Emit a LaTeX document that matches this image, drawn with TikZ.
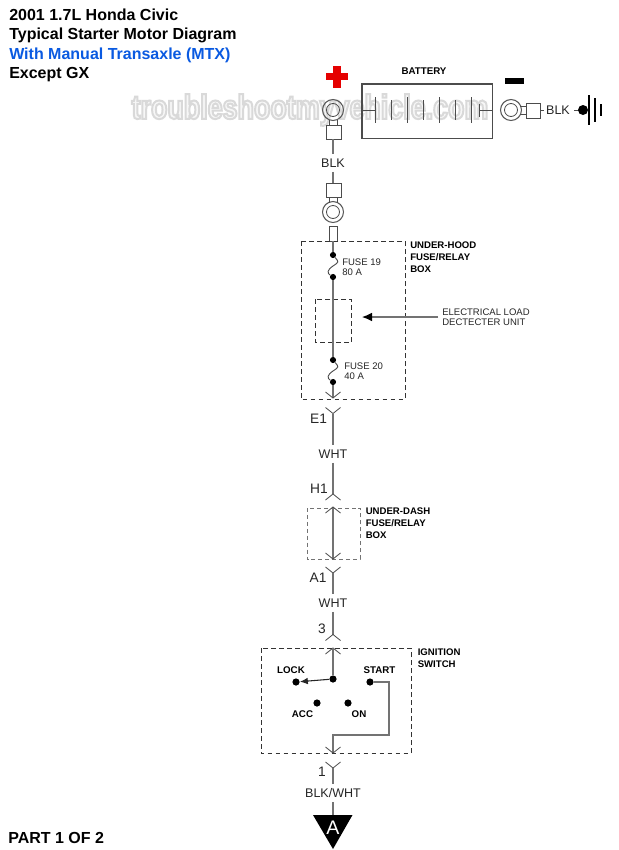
\documentclass[tikz,border=0pt]{standalone}
\usepackage{fontspec}
\setmainfont{Liberation Sans}
\newfontfamily\wmfont[FakeStretch=0.79]{Liberation Sans}
\usetikzlibrary{arrows.meta}
\definecolor{wire}{gray}{0.45}
\definecolor{dashc}{gray}{0.2}
\definecolor{bluet}{RGB}{10,90,225}
\tikzset{
 x=0.75pt,y=-0.75pt,
 wire/.style={draw=wire,line width=0.85pt},
 thin wire/.style={draw=black!70,line width=0.6pt},
 ring/.style={draw=black!65,line width=0.8pt},
 dbox/.style={draw=dashc,line width=0.65pt,dash pattern=on 3.4pt off 2.6pt},
 graybox/.style={draw=black!55,line width=0.75pt,dash pattern=on 3pt off 2.2pt},
 title/.style={anchor=west,font=\fontsize{12pt}{14pt}\selectfont\bfseries,inner sep=0},
 lab/.style={font=\fontsize{9.4pt}{11pt}\selectfont,inner sep=0,outer sep=3.5pt,text=black!85},
 conn/.style={font=\fontsize{10.3pt}{12pt}\selectfont,inner sep=0,text=black!85},
 small/.style={anchor=west,align=left,font=\fontsize{7.15pt}{7.4pt}\selectfont,inner sep=0,text=black!85},
 boldlab/.style={anchor=west,align=left,font=\fontsize{7.2pt}{9pt}\selectfont\bfseries,inner sep=0},
 swlab/.style={font=\fontsize{7.3pt}{8pt}\selectfont\bfseries,inner sep=0},
 dotn/.style={circle,fill=black,inner sep=0,minimum size=5.4pt},
 fdot/.style={circle,fill=black,inner sep=0,minimum size=4.6pt},
 pin/.style={draw=black!70,line width=0.6pt,fill=white},
}
\begin{document}
\begin{tikzpicture}
\useasboundingbox (0,0) rectangle (618,850);
\fill[white] (0,0) rectangle (618,850);
% watermark
\node[inner sep=0,text=white,font=\wmfont\fontsize{25.5pt}{27pt}\selectfont\bfseries] (wm) at (310,110)
 {\special{pdf:code q 0.85 G 0.97 g 1.5 w 2 Tr}troubleshootmyvehicle.com\special{pdf:code 0 Tr Q}};
% titles
\node[title] (t1) at (9,15) {2001 1.7L Honda Civic};
\node[title] (t2) at (9,35) {Typical Starter Motor Diagram};
\node[title,text=bluet] (t3) at (9,55) {With Manual Transaxle (MTX)};
\node[title] (t4) at (9,75) {Except GX};
\node[title] (part) at (8,838) {PART 1 OF 2};
% battery
\draw[draw=black!70,line width=0.8pt] (362,84) rectangle (492.5,138.5);
\node[swlab] (batt) at (424,71) {BATTERY};
\coordinate (bl) at (362,110);\coordinate (br) at (492,110);
\draw[thin wire] (bl) -- (375,110);
\foreach \x/\h in {375/13,391/10,407/13,423/10,439/13,455/10,471/13}{
  \draw[thin wire] (\x,110-\h) -- (\x,110+\h);}
\draw[thin wire] (479,104) -- (479,117);
\draw[thin wire] (479,110) -- (br);
% plus / minus
\fill[red!90!black] (333,66) rectangle (341,88);
\fill[red!90!black] (326,73) rectangle (348,80);
\fill[black] (505,78) rectangle (524,84);
% positive lug
\draw[ring] (333,110) circle (10.5);
\draw[thin wire] (333,110) circle (6.5);
\draw[pin] (326,125) rectangle (341,139);
\draw[thin wire] (329,120) -- (329,125) (337,120) -- (337,125);
% negative lug
\draw[ring] (511,110) circle (10.5);
\draw[thin wire] (511,110) circle (6.5);
\draw[pin] (526,103) rectangle (540,118);
\draw[thin wire] (520,106) -- (526,106) (520,114) -- (526,114);
\draw[thin wire] (540,110) -- (544,110);
\node[lab,outer sep=0] (blk2) at (558,110) {BLK};
% ground
\draw[thin wire] (574,110) -- (583,110);
\node[dotn,minimum size=7.5pt] (gnd) at (583,110) {};
\draw[black,line width=1pt] (589,95) -- (589,125);
\draw[black,line width=1pt] (595,98) -- (595,122);
\draw[black,line width=1pt] (601,104) -- (601,116);
% main wire, top
\node[lab] (blk1) at (333,163) {BLK};
\draw[wire] (333,139) -- (blk1.north);
\draw[wire] (blk1.south) -- (333,183);
\draw[pin] (326,183) rectangle (341,197);
\draw[ring] (333,212) circle (10.5);
\draw[thin wire] (333,212) circle (6.5);
\draw[thin wire] (329,197) -- (329,203) (337,197) -- (337,203);
\draw[pin] (329.5,226) rectangle (337,241);
% under-hood box
\draw[dbox] (301,241) rectangle (405,399.5);
\node[boldlab] (uh) at (410,257) {UNDER-HOOD\\FUSE/RELAY\\BOX};
\node[fdot] (f1a) at (333,255) {};
\node[fdot] (f1b) at (333,277) {};
\draw[wire] (333,241) -- (f1a);
\draw[thin wire,line width=.7pt] (f1a) .. controls (339,262) and (339,262) .. (333,266) .. controls (327,270) and (327,273) .. (f1b);
\node[small] (f19) at (342,267) {FUSE 19\\80 A};
% load unit
\draw[dbox] (315,299) rectangle (351.5,342);
\node[small] (elu) at (442,317) {ELECTRICAL LOAD\\DECTECTER UNIT};
\coordinate (eluT) at (362,317);
\draw[wire,-{Latex[length=7.5pt,width=6.5pt,fill=black,black]}] (elu.west) ++(-4,0) -- (eluT);
% fuse 20
\node[fdot] (f2a) at (333,360) {};
\node[fdot] (f2b) at (333,382) {};
\draw[wire] (f1b) -- (f2a);
\draw[thin wire,line width=.7pt] (f2a) .. controls (339,367) and (339,367) .. (333,371) .. controls (327,375) and (327,378) .. (f2b);
\node[small] (f20) at (344,371.5) {FUSE 20\\40 A};
% connector E1
\coordinate (e1m) at (333,398);
\draw[wire] (f2b) -- (e1m);
\draw[thin wire] (325.5,392) -- (e1m) -- (340.5,392);
\coordinate (e1f) at (333,413.5);
\draw[thin wire] (325.5,407.5) -- (e1f) -- (340.5,407.5);
\node[conn] (e1) at (318.5,419) {E1};
\node[lab] (wht1) at (333,454) {WHT};
\draw[wire] (e1f) -- (wht1.north);
\node[conn] (h1) at (319,488.5) {H1};
\coordinate (h1f) at (333,494);
\draw[wire] (wht1.south) -- (h1f);
\draw[thin wire] (325.5,500) -- (h1f) -- (340.5,500);
% under-dash box
\draw[graybox] (307,508) rectangle (360,559);
\node[boldlab] (ud) at (365.5,523.5) {UNDER-DASH\\FUSE/RELAY\\BOX};
\coordinate (dt) at (333,507);
\coordinate (db) at (333,559);
\draw[wire] (dt) -- (db);
\draw[thin wire] (325.5,513) -- (dt) -- (340.5,513);
\draw[thin wire] (325.5,553) -- (db) -- (340.5,553);
% A1
\coordinate (a1f) at (333,573);
\draw[thin wire] (325.5,567) -- (a1f) -- (340.5,567);
\node[conn] (a1) at (318,578) {A1};
\node[lab] (wht2) at (333,603) {WHT};
\draw[wire] (a1f) -- (wht2.north);
\node[conn] (c3) at (322,628.5) {3};
\coordinate (p3) at (333,634.5);
\draw[wire] (wht2.south) -- (p3);
\draw[thin wire] (325.5,640.5) -- (p3) -- (340.5,640.5);
% ignition switch
\draw[dbox] (261,648) rectangle (411,753.5);
\node[boldlab] (ig) at (417.5,658) {IGNITION\\SWITCH};
\coordinate (it) at (333,648);
\draw[thin wire] (325.5,654) -- (it) -- (340.5,654);
\node[dotn] (com) at (333,679) {};
\draw[wire] (it) -- (com);
\node[dotn] (lock) at (296,682) {};
\node[dotn] (start) at (370,682) {};
\node[dotn] (acc) at (317,703) {};
\node[dotn] (on) at (348,703) {};
\draw[black!85,line width=0.8pt,-{Latex[length=6pt,width=5pt]}] (com) -- (lock);
\coordinate (c1) at (389,682);
\coordinate (c2) at (389,735);
\coordinate (c3p) at (333,735);
\coordinate (ib) at (333,753);
\draw[wire] (start) -- (c1) -- (c2) -- (c3p) -- (ib);
\draw[thin wire] (325.5,747) -- (ib) -- (340.5,747);
\node[swlab] (l1) at (291,670) {LOCK};
\node[swlab] (l2) at (379.5,670) {START};
\node[swlab] (l3) at (302.5,714) {ACC};
\node[swlab] (l4) at (359,714) {ON};
% pin 1
\coordinate (p1) at (333,768);
\draw[thin wire] (325.5,762) -- (p1) -- (340.5,762);
\node[conn] (c1n) at (322,772) {1};
\node[lab] (bw) at (333,793) {BLK/WHT};
\draw[wire] (p1) -- (bw.north);
\coordinate (tr) at (333,816);
\draw[wire] (bw.south) -- (tr);
\fill[black] (313,815) -- (352.5,815) -- (333,849) -- cycle;
\node[inner sep=0,text=white,font=\fontsize{14.7pt}{16pt}\selectfont] (aa) at (333,828) {A};
\end{tikzpicture}
\end{document}
